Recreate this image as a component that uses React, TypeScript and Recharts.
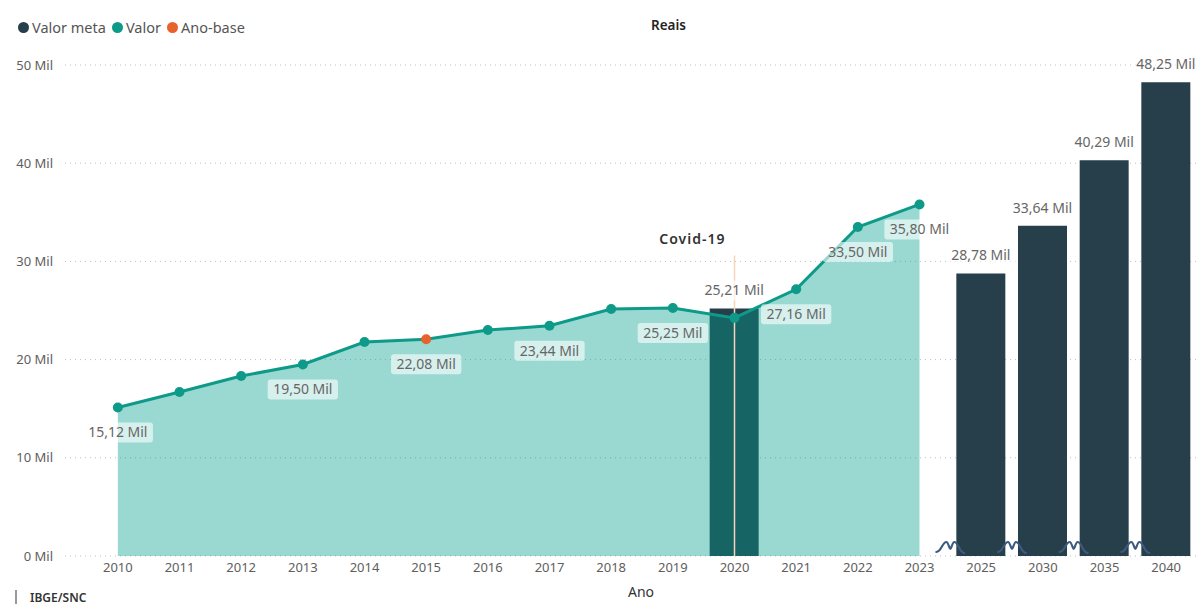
import React from 'react';
import {
  ComposedChart, Bar, Area, Line, XAxis, YAxis, CartesianGrid, ReferenceLine, LabelList,
} from 'recharts';

const years = ['2010', '2011', '2012', '2013', '2014', '2015', '2016', '2017', '2018', '2019', '2020', '2021', '2022', '2023', '2025', '2030', '2035', '2040'];
const valor = [15.12, 16.7, 18.33, 19.5, 21.79, 22.08, 23.01, 23.44, 25.15, 25.25, 24.25, 27.16, 33.5, 35.8, null, null, null, null];
const valorMeta = [null, null, null, null, null, null, null, null, null, null, 25.21, null, null, null, 28.78, 33.64, 40.29, 48.25];
const labeledYears = ['2010', '2013', '2015', '2017', '2019', '2021', '2022', '2023'];
const breakBefore = ['2025', '2030', '2035', '2040'];
const baseYear = '2015';
const yTicks = [0, 10, 20, 30, 40, 50];

const legendItems = [
  { name: 'Valor meta', color: '#263f4a' },
  { name: 'Valor', color: '#0e9a88' },
  { name: 'Ano-base', color: '#e8622c' },
];

const data = years.map((y, i) => ({
  year: y,
  valor: valor[i],
  meta: valorMeta[i],
}));

const FONT = '"Segoe UI", "Noto Sans", sans-serif';
const fmt = (v: number) => `${v.toFixed(2).replace('.', ',')} Mil`;

const LabelBox = ({ cx, cy, text }: { cx: number; cy: number; text: string }) => {
  const w = text.length * 6.7 + 10;
  return (
    <g>
      <rect x={cx - w / 2} y={cy - 10} width={w} height={20} rx={3} fill="#fff" fillOpacity={0.6} />
      <text x={cx} y={cy} dy="0.35em" textAnchor="middle" fontSize={14} fill="#666" fontFamily={FONT}>{text}</text>
    </g>
  );
};

// bar label plus axis-break squiggle just left of each projected bar
const BarLabel = (p: any) => {
  if (p.value == null) return null;
  const vb = p.viewBox || {};
  const x = Number.isFinite(p.x) ? p.x : vb.x;
  const y = Number.isFinite(p.y) ? p.y : vb.y;
  const w = Number.isFinite(p.width) ? p.width : vb.width;
  const h = Number.isFinite(p.height) ? p.height : vb.height;
  const idx = valorMeta.indexOf(p.value);
  const b = y + Math.abs(h);
  const cx = x - 6;
  return (
    <g>
      <LabelBox cx={x + w / 2} cy={y - 18} text={fmt(p.value)} />
      {breakBefore.includes(years[idx]) && Number.isFinite(b) && (
        <path
          d={`M${cx - 14},${b - 4} C${cx - 9},${b - 4} ${cx - 8},${b - 14} ${cx - 4},${b - 14} C${cx - 2},${b - 14} ${cx - 1},${b - 7} ${cx},${b - 7} C${cx + 1},${b - 7} ${cx + 2},${b - 14} ${cx + 4},${b - 14} C${cx + 8},${b - 14} ${cx + 9},${b - 3} ${cx + 14},${b - 3}`}
          fill="none" stroke="#3d5a80" strokeWidth={2.2} strokeLinecap="round"
        />
      )}
    </g>
  );
};

const Dot = (props: any) => {
  const { cx, cy, payload } = props;
  if (cx == null || cy == null || payload.valor == null) return null;
  return <circle cx={cx} cy={cy} r={5} fill={payload.year === baseYear ? '#e8622c' : '#0e9a88'} />;
};

export default function App() {
  return (
    <div style={{ position: 'absolute', left: 0, top: 0, width: 1200, height: 604, fontFamily: FONT, background: '#fff' }}>
      <div style={{ position: 'absolute', left: 18, top: 17, display: 'flex', alignItems: 'center', fontSize: 14.5, color: '#555' }}>
        {legendItems.map(l => (
          <div key={l.name} style={{ display: 'flex', alignItems: 'center', marginRight: 6 }}>
            <span style={{ width: 11, height: 11, borderRadius: '50%', background: l.color, display: 'inline-block', marginRight: 3 }} />
            <span>{l.name}</span>
          </div>
        ))}
      </div>
      <div style={{ position: 'absolute', left: 651, top: 16, fontSize: 13.5, fontWeight: 600, color: '#252423' }}>Reais</div>
      <div style={{ position: 'absolute', left: 628, top: 582, fontSize: 14, color: '#333' }}>Ano</div>
      <div style={{ position: 'absolute', left: 15, top: 590, width: 2, height: 14, background: '#999' }} />
      <div style={{ position: 'absolute', left: 30, top: 591, fontSize: 12, lineHeight: '13px', fontWeight: 600, color: '#333' }}>IBGE/SNC</div>

      <ComposedChart width={1200} height={604} data={data} margin={{ top: 65, right: 3, left: 0, bottom: 18 }}>
        <CartesianGrid vertical={false} strokeDasharray="1 4" stroke="#bdbdbd" />
        <XAxis
          dataKey="year" axisLine={false} tickLine={false} tickSize={0} tickMargin={7} height={30}
          padding={{ left: 22, right: 0 }}
          tick={{ fontSize: 13, fill: '#605e5c', fontFamily: FONT }} interval={0}
        />
        <YAxis
          domain={[0, 50]} ticks={yTicks} axisLine={false} tickLine={false} tickSize={0} tickMargin={12} width={65}
          tickFormatter={(v: number) => `${v} Mil`}
          tick={{ fontSize: 13, fill: '#605e5c', fontFamily: FONT }}
        />
        <Bar dataKey="meta" fill="#263f4a" barSize={49} isAnimationActive={false}>
          <LabelList dataKey="meta" content={BarLabel} />
        </Bar>
        <Area
          dataKey="valor" type="linear" fill="#009f8c" fillOpacity={0.4} stroke="none"
          isAnimationActive={false} zIndex={350} dot={false} activeDot={false}
        />
        <ReferenceLine
          segment={[{ x: '2020', y: 0 }, { x: '2020', y: 30.6 }]}
          stroke="#f8d4bc" strokeWidth={1.5}
          label={(p: any) => {
            const vb = p.viewBox || {};
            return (
              <text x={vb.x - 9} y={vb.y - 16} dy="0.35em" textAnchor="end" fontSize={14} fontWeight={600} fill="#333" fontFamily={FONT} letterSpacing={1}>
                Covid-19
              </text>
            );
          }}
        />
        <Line
          dataKey="valor" type="linear" stroke="#0e9a88" strokeWidth={3} dot={Dot} activeDot={false}
          isAnimationActive={false}
        >
          <LabelList
            dataKey="valor"
            content={(p: any) => {
              if (p.value == null || !labeledYears.includes(years[p.index])) return null;
              return <LabelBox cx={p.x} cy={p.y + 25} text={fmt(p.value)} />;
            }}
          />
        </Line>
      </ComposedChart>
    </div>
  );
}
